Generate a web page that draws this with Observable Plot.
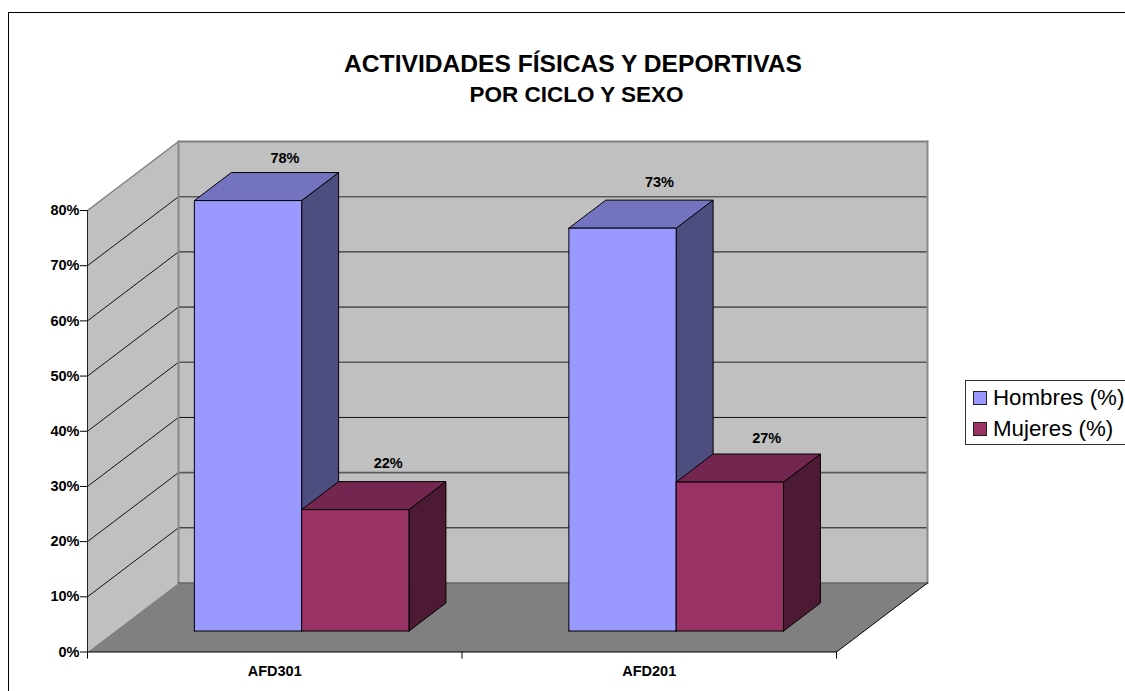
<!DOCTYPE html>
<html><head><meta charset="utf-8">
<script src="https://cdn.jsdelivr.net/npm/d3@7"></script>
<script src="https://cdn.jsdelivr.net/npm/@observablehq/plot@0.6"></script>
<style>
html,body{margin:0;padding:0;background:#fff;overflow:hidden;width:1125px;height:691px}
#wrap{position:relative;width:1125px;height:691px;overflow:hidden;font-family:"Liberation Sans",Arial,sans-serif;color:#000}
#frame{position:absolute;left:8px;top:12px;width:1300px;height:900px;border:1px solid #000;box-sizing:border-box}
#chart{position:absolute;left:0;top:0}
.t{position:absolute;left:273px;width:600px;text-align:center;font-weight:bold;white-space:nowrap}
#legend{position:absolute;left:965px;top:380px;width:180px;height:65px;border:1px solid #333;box-sizing:border-box;background:#fff;font-size:22.3px}
.row{position:absolute;left:7px;height:26px;line-height:26px;white-space:nowrap}
.sw{display:inline-block;width:12px;height:12px;border:1px solid #222;margin-right:6px;vertical-align:0px}
</style></head><body>
<div id="wrap">
<div id="frame"></div>
<div class="t" style="top:50px;font-size:24.6px;line-height:28px">ACTIVIDADES FÍSICAS Y DEPORTIVAS</div>
<div class="t" style="top:83px;left:276.5px;font-size:22.5px;line-height:24px">POR CICLO Y SEXO</div>
<div id="chart"></div>
<div id="legend"></div>
</div>
<script>
const categories = ["AFD301", "AFD201"];
const seriesNames = ["Hombres (%)", "Mujeres (%)"];
const hombres = [78, 73];
const mujeres = [22, 27];
const yTicks = [0, 10, 20, 30, 40, 50, 60, 70, 80];
const heavyGrid = [70, 50, 40, 20];

const colors = [
  {front: "#9999ff", side: "#4d4d80", top: "#7373bf"},
  {front: "#993366", side: "#4d1a33", top: "#732650"}
];
const depthX = 0.243, depthY = 12.5;       // oblique projection of the depth axis, in x and y units
const barNear = 0.304, barFar = 0.71;
const slotStart = 0.2115, barWidth = 0.2865;
const P = (c, v, d) => [c + d * depthX, v + d * depthY];

const face = (pts, fill, stroke, strokeWidth = 1) =>
  Plot.line([...pts, pts[0]].map(p => P(...p)), {x: d => d[0], y: d => d[1], fill, stroke, strokeWidth, strokeLinejoin: "miter"});
const seg = (a, b, stroke, strokeWidth = 1) =>
  Plot.line([P(...a), P(...b)], {x: d => d[0], y: d => d[1], stroke, strokeWidth});

const marks = [];
// walls and floor
marks.push(face([[0,0,0],[0,80,0],[0,80,1],[0,0,1]], "#c0c0c0", "none"));
marks.push(face([[0,0,1],[2,0,1],[2,80,1],[0,80,1]], "#c0c0c0", "none"));
for (const t of yTicks.slice(1)) {
  if (t < 80) marks.push(seg([0,t,0],[0,t,1],"#111"));
  if (t < 80) marks.push(heavyGrid.includes(t) ? seg([0,t,1],[2,t,1],"#5a5a5a",1.6) : seg([0,t,1],[2,t,1],"#111"));
}
marks.push(seg([0,80,0],[0,80,1],"#808080",1.5));
marks.push(seg([0,80,1],[2,80,1],"#808080",2));
marks.push(seg([0,0,1],[0,80,1],"#8a8a8a",2));
marks.push(seg([2,0,1],[2,80,1],"#8a8a8a",2));
marks.push(face([[0,0,0],[2,0,0],[2,0,1],[0,0,1]], "#808080", "none"));
marks.push(seg([0,0,1],[2,0,1],"#666",1.5));
marks.push(seg([2,0,0],[2,0,1],"#000"));

// bars
const labels = [];
const nudgeY = [[-14,-18],[-18,-16]];
const nudgeX = [[0,-4],[0,0]];
categories.forEach((cat, i) => {
  [hombres, mujeres].forEach((vals, s) => {
    const v = vals[i], c = colors[s];
    const x0 = i + slotStart + s * barWidth, x1 = x0 + barWidth;
    marks.push(face([[x1,0,barNear],[x1,0,barFar],[x1,v,barFar],[x1,v,barNear]], c.side, "#000"));
    marks.push(face([[x0,v,barNear],[x1,v,barNear],[x1,v,barFar],[x0,v,barFar]], c.top, "#000"));
    marks.push(face([[x0,0,barNear],[x1,0,barNear],[x1,v,barNear],[x0,v,barNear]], c.front, "#000"));
    const [lx, ly] = P((x0 + x1) / 2, v, barFar);
    labels.push(Plot.text([{lx, ly, v}], {x: "lx", y: "ly", text: d => d.v + "%", dx: nudgeX[i][s], dy: nudgeY[i][s],
      fontWeight: "bold", fontSize: 14.5, fill: "#000", stroke: "none"}));
  });
});

const chart = Plot.plot({
  width: 1125, height: 691,
  marginLeft: 87, marginRight: 289, marginTop: 210, marginBottom: 39.5,
  style: {background: "transparent", overflow: "visible", fontFamily: "'Liberation Sans', Arial, sans-serif"},
  x: {domain: [0, 2]},
  y: {domain: [0, 80]},
  marks: [
    ...marks,
    Plot.ruleY([0], {stroke: "#000"}),
    Plot.ruleX([0], {y1: 0, y2: 80, stroke: "#222"}),
    Plot.axisY({ticks: yTicks, tickFormat: d => d + "%", tickSize: 7, tickPadding: 1, label: null,
      fontWeight: "bold", fontSize: 14.5, stroke: "#000", fill: "#000"}),
    Plot.axisX({ticks: [0, 1, 2], tickFormat: () => "", tickSize: 7, label: null, stroke: "#000"}),
    Plot.axisX({ticks: categories.map((_, i) => i + 0.5), tickFormat: d => categories[Math.floor(d)],
      tickSize: 0, tickPadding: 14, label: null, fontWeight: "bold", fontSize: 14.5, fill: "#000"}),
    ...labels
  ]
});
document.getElementById("chart").appendChild(chart);

const legend = document.getElementById("legend");
seriesNames.forEach((name, s) => {
  const row = document.createElement("div");
  row.className = "row";
  row.style.top = (4 + s * 31) + "px";
  const sw = document.createElement("span");
  sw.className = "sw";
  sw.style.background = colors[s].front;
  row.appendChild(sw);
  row.appendChild(document.createTextNode(name));
  legend.appendChild(row);
});
</script>
</body></html>
